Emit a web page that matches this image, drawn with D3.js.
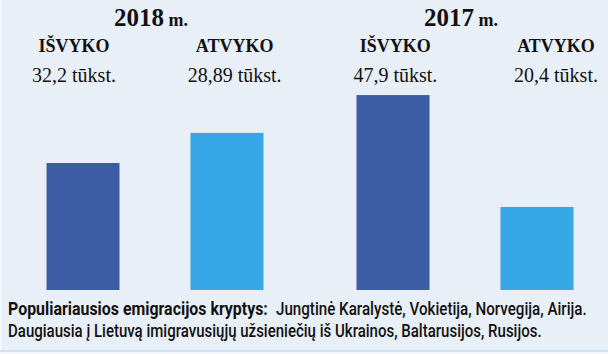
<!DOCTYPE html>
<html>
<head>
<meta charset="utf-8">
<script src="https://cdn.jsdelivr.net/npm/d3@7"></script>
<style>
  html, body { margin: 0; padding: 0; background: #e9eff6; }
  svg { display: block; }
</style>
</head>
<body>
<script>
// ---- data ----
const years = ["2018", "2017"];
const directions = ["IŠVYKO", "ATVYKO"];
// printed value labels (thousands)
const valueLabels2018 = ["32,2 tūkst.", "28,89 tūkst."];
const valueLabels2017 = ["47,9 tūkst.", "20,4 tūkst."];
// bar heights as drawn in the picture (thousands, same scale)
const barHeights2018 = [31.2, 38.6];
const barHeights2017 = [47.9, 20.4];
const footBold = "Populiariausios emigracijos kryptys:";
const footRest = "Jungtinė Karalystė, Vokietija, Norvegija, Airija.";
const footLine2 = "Daugiausia į Lietuvą imigravusiųjų užsieniečių iš Ukrainos, Baltarusijos, Rusijos.";

const W = 608, H = 354;
const rows = [];
years.forEach((y, i) => {
  const h = i === 0 ? barHeights2018 : barHeights2017;
  const l = i === 0 ? valueLabels2018 : valueLabels2017;
  directions.forEach((d, j) => rows.push({ year: y, dir: d, v: h[j], label: l[j], col: i * 2 + j }));
});

const svg = d3.select("body").append("svg").attr("width", W).attr("height", H);
svg.append("rect").attr("width", W).attr("height", H).attr("fill", "#e9eff6");
svg.append("rect").attr("x", 0).attr("y", 0).attr("width", 2).attr("height", H).attr("fill", "#f4f7fb");
svg.append("rect").attr("x", 0).attr("y", 350).attr("width", W).attr("height", 2).attr("fill", "#cfe0f0");
svg.append("rect").attr("x", 0).attr("y", 352).attr("width", W).attr("height", 2).attr("fill", "#f4f7fb");

// scales
const x0 = d3.scaleBand().domain(years).range([0, 620]).padding(0);
const x1 = d3.scaleBand().domain(directions).range([0, x0.bandwidth()])
  .paddingInner(0.493).paddingOuter(0.323);
const y = d3.scaleLinear().domain([0, 50]).range([290, 86.5]);
const colors = d3.scaleOrdinal().domain(directions).range(["#3d5ca6", "#38a7e7"]);
const labelX = d3.scalePoint().domain([0, 1, 2, 3]).range([74, 556]);

// bars
svg.append("g").selectAll("rect").data(rows).join("rect")
  .attr("x", d => x0(d.year) + x1(d.dir))
  .attr("width", x1.bandwidth())
  .attr("y", d => y(d.v))
  .attr("height", d => y(0) - y(d.v))
  .attr("fill", d => colors(d.dir));

// year titles
const serif = "'Liberation Serif', 'Times New Roman', serif";
const titles = svg.append("g").selectAll("text").data(years).join("text")
  .attr("x", d => x0(d) + x0.bandwidth() / 2 - 4)
  .attr("y", 26)
  .attr("text-anchor", "middle")
  .attr("font-family", serif)
  .attr("font-weight", "bold")
  .attr("fill", "#111");
titles.append("tspan").attr("font-size", 25).text(d => d);
titles.append("tspan").attr("font-size", 18).text(" m.");

// direction labels
svg.append("g").selectAll("text").data(rows).join("text")
  .attr("x", d => labelX(d.col))
  .attr("y", 52)
  .attr("text-anchor", "middle")
  .attr("font-family", serif)
  .attr("font-weight", "bold")
  .attr("font-size", 18)
  .attr("fill", "#111")
  .text(d => d.dir);

// value labels
svg.append("g").selectAll("text").data(rows).join("text")
  .attr("x", d => labelX(d.col))
  .attr("y", 82)
  .attr("text-anchor", "middle")
  .attr("font-family", serif)
  .attr("font-size", 20)
  .attr("fill", "#111")
  .text(d => d.label);

// footnote: condensed by horizontal scaling to the widths seen in the picture
const sans = "Roboto, 'Open Sans', sans-serif";
const foot = [
  { t: footBold, x: 8, y: 315, w: 260, bold: true },
  { t: footRest, x: 276, y: 315, w: 311, bold: false },
  { t: footLine2, x: 8, y: 337, w: 534, bold: false }
];
foot.forEach(f => {
  const g = svg.append("g");
  const txt = g.append("text").attr("x", 0).attr("y", 0)
    .attr("font-family", sans).attr("font-weight", f.bold ? "bold" : 500)
    .attr("font-size", 17.5).attr("fill", "#111").text(f.t);
  const len = txt.node().getComputedTextLength();
  g.attr("transform", `translate(${f.x},${f.y}) scale(${f.w / len},1)`);
});
</script>
</body>
</html>
